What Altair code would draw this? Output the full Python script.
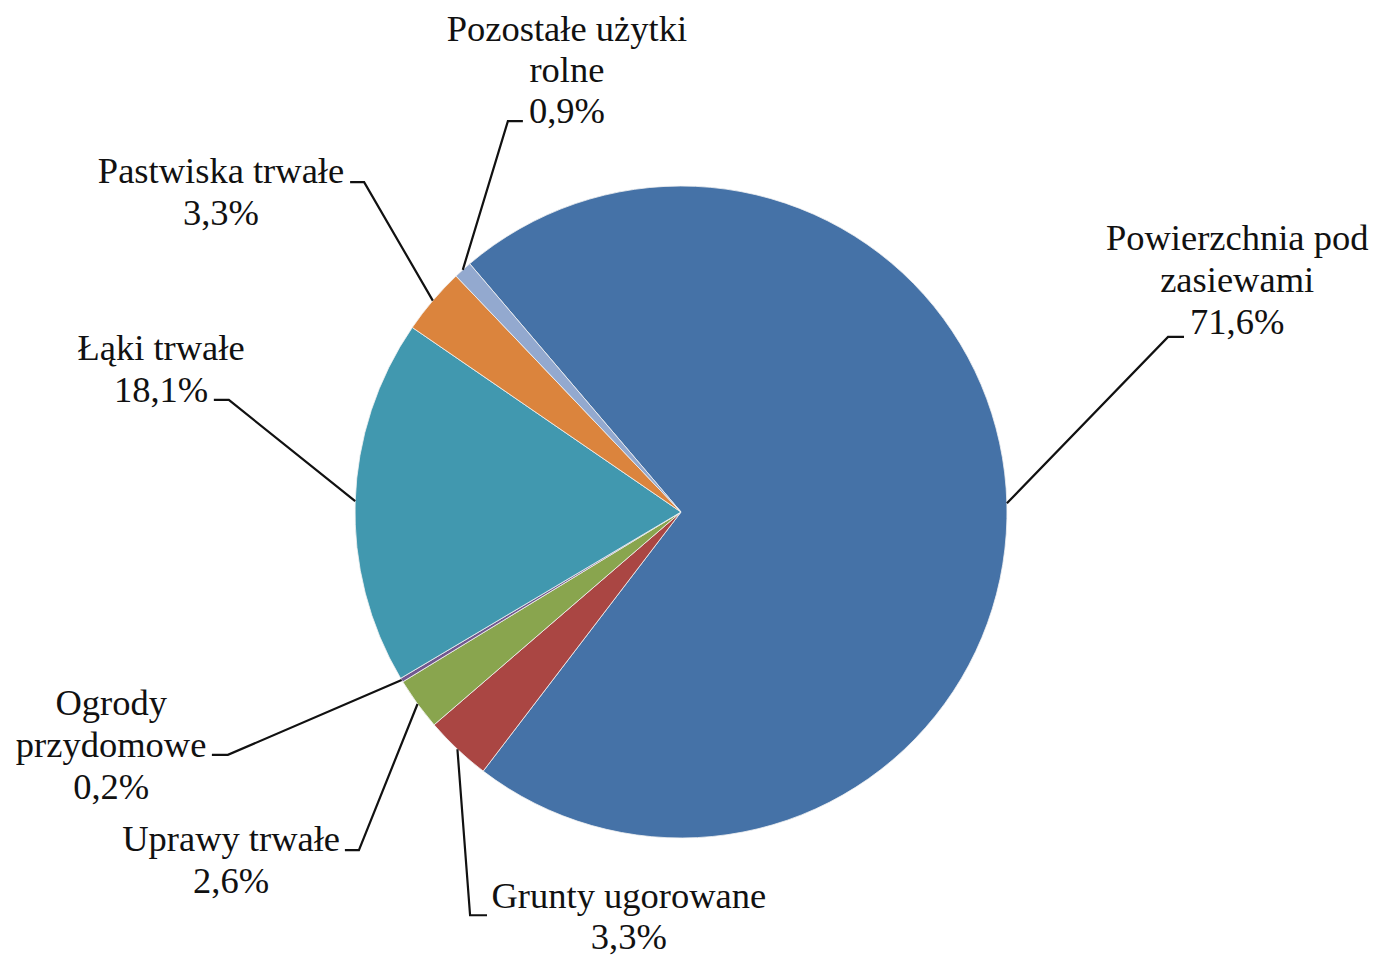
import math
import altair as alt
import pandas as pd

# ---- data ----
categories = ["Powierzchnia pod zasiewami", "Grunty ugorowane", "Uprawy trwałe",
              "Ogrody przydomowe", "Łąki trwałe", "Pastwiska trwałe", "Pozostałe użytki rolne"]
shares = [71.6, 3.3, 2.6, 0.2, 18.1, 3.3, 0.9]
name_lines = [["Powierzchnia pod", "zasiewami"], ["Grunty ugorowane"], ["Uprawy trwałe"],
              ["Ogrody", "przydomowe"], ["Łąki trwałe"], ["Pastwiska trwałe"],
              ["Pozostałe użytki", "rolne"]]
colors = ["#4572A7", "#AA4643", "#89A54E", "#71588F", "#4198AF", "#DB843D", "#93A9CF"]

# ---- layout (units of pie radius, y upwards, origin at pie centre) ----
start_deg = -40.4
# elbow x, elbow y, end of horizontal foot x, text centre x, first text line y, line step
label_layout = [
    (1.494, 0.537, 1.543, 1.706, 0.837, 0.1288),
    (-0.647, -1.237, -0.595, -0.160, -1.181, 0.1270),
    (-0.988, -1.037, -1.031, -1.380, -1.006, 0.1288),
    (-1.390, -0.745, -1.439, -1.748, -0.589, 0.1288),
    (-1.387, 0.344, -1.433, -1.595, 0.500, 0.1288),
    (-0.972, 1.012, -1.015, -1.411, 1.043, 0.1288),
    (-0.531, 1.199, -0.485, -0.350, 1.480, 0.1265),
]

W, H = 1363, 952
R = 326.0
CX, CY = 673.0, 504.0
xdom = [-CX / R, (W - CX) / R]
ydom = [-(H - CY) / R, CY / R]
xs = alt.Scale(domain=xdom, range=[0, W])
ys = alt.Scale(domain=ydom, range=[H, 0])

pie_df = pd.DataFrame({"cat": categories, "share": shares, "order": list(range(len(shares)))})

# leader lines: from slice mid-angle on the rim to elbow and foot
total = sum(shares)
line_rows = []
text_rows = []
cum = 0.0
for i, (cat, v) in enumerate(zip(categories, shares)):
    mid = math.radians(start_deg + (cum + v / 2) / total * 360.0)
    cum += v
    ex, ey = math.sin(mid), math.cos(mid)
    kx, ky, fx, tx, ty, step = label_layout[i]
    for j, (px, py) in enumerate([(ex, ey), (kx, ky), (fx, ky)]):
        line_rows.append({"cat": cat, "k": j, "x": px, "y": py})
    lines = name_lines[i] + [f"{v:.1f}%".replace(".", ",")]
    for j, t in enumerate(lines):
        text_rows.append({"cat": cat, "t": t, "x": tx, "y": ty - j * step})

lines_df = pd.DataFrame(line_rows)
text_df = pd.DataFrame(text_rows)

pie = alt.Chart(pie_df).mark_arc(stroke="#f2f2f2", strokeWidth=0.8).encode(
    x=alt.datum(0, scale=xs, axis=None),
    y=alt.datum(0, scale=ys, axis=None),
    theta=alt.Theta("share:Q", stack=True,
                    scale=alt.Scale(domain=[0, total],
                                    range=[math.radians(start_deg), math.radians(start_deg) + 2 * math.pi])),
    radius=alt.value(R),
    color=alt.Color("cat:N", scale=alt.Scale(domain=categories, range=colors), legend=None),
    order=alt.Order("order:Q"),
)

leaders = alt.Chart(lines_df).mark_line(color="#111111", strokeWidth=2.2).encode(
    x=alt.X("x:Q", scale=xs, axis=None),
    y=alt.Y("y:Q", scale=ys, axis=None),
    detail="cat:N",
    order="k:Q",
)

texts = alt.Chart(text_df).mark_text(
    font="Liberation Serif", fontSize=36.5, color="#111111", align="center", baseline="middle"
).encode(
    x=alt.X("x:Q", scale=xs, axis=None),
    y=alt.Y("y:Q", scale=ys, axis=None),
    text="t:N",
)

chart = alt.layer(pie, leaders, texts).properties(
    width=W, height=H, autosize=alt.AutoSizeParams(type="none"), padding=0
).configure_view(stroke=None)

chart.save("out.html", embed_options={"renderer": "svg", "actions": False})
